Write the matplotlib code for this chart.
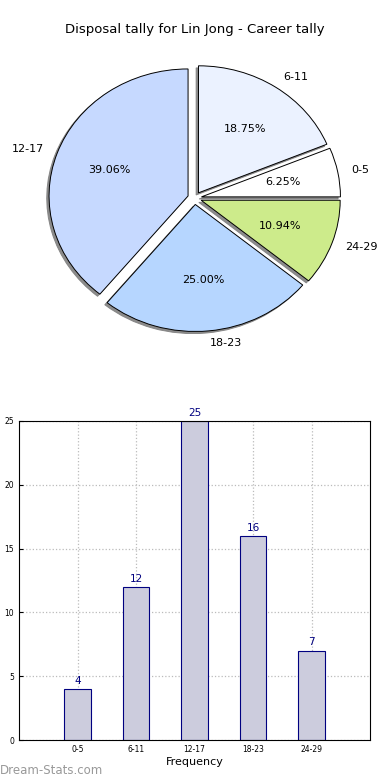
import numpy as np
import matplotlib.pyplot as plt

# данные: диапазоны и количество
ranges = ['0-5', '6-11', '12-17', '18-23', '24-29']
counts = [4, 12, 25, 16, 7]
pie_colors = ['#ffffff', '#ebf2ff', '#c6d9ff', '#b6d6ff', '#cdeb8b']

fig = plt.figure(figsize=(3.9, 7.8), dpi=100)

# круговая диаграмма (эллипс, без равного масштаба осей)
ax1 = fig.add_axes([0.0, 0.518, 0.998, 0.456])
wedges, texts, autotexts = ax1.pie(counts, labels=ranges, colors=pie_colors,
                                   explode=[0.05] * len(counts),
                                   shadow={'ox': -0.012, 'oy': -0.012,
                                           'facecolor': '#808080', 'edgecolor': '#808080',
                                           'alpha': 0.9},
                                   autopct='%1.2f%%', startangle=0,
                                   wedgeprops={'edgecolor': 'black', 'linewidth': 0.7},
                                   textprops={'fontsize': 8})
ax1.set_aspect('auto')
ax1.set_xlim(-1.4, 1.4)
ax1.set_ylim(-1.4, 1.4)
ax1.axis('off')
fig.text(0.5, 1 - 30 / 780, 'Disposal tally for Lin Jong - Career tally',
         ha='center', va='center', fontsize=9.5)

# столбчатая диаграмма
ax2 = fig.add_axes([19 / 390, 1 - 740 / 780, 351 / 390, 319 / 780])
x = np.arange(len(counts))
ax2.bar(x, counts, width=0.45, color='#ccccdd', edgecolor='navy', linewidth=0.8, zorder=2)
for xi, c in zip(x, counts):
    ax2.text(xi, c + 0.25, str(c), ha='center', va='bottom', color='navy', fontsize=7.5)
ax2.set_xlim(-1, 5)
ax2.set_ylim(0, 25)
ax2.set_xticks(x)
ax2.set_xticklabels(ranges)
ax2.set_yticks(range(0, 26, 5))
ax2.tick_params(direction='in', labelsize=5.5, length=3)
ax2.grid(True, linestyle=':', color='#bbbbbb', linewidth=0.9, zorder=0)
ax2.set_axisbelow(True)
ax2.set_xlabel('Frequency', fontsize=8, labelpad=2)
ax2.set_ylabel('Occurrences', fontsize=8)
ax2.yaxis.set_label_coords(-0.05, 0.5)

fig.text(0.0, 1 - 771 / 780, 'Dream-Stats.com', color='#999999', fontsize=8.5,
         ha='left', va='center')

plt.savefig('out.png', dpi=100)
